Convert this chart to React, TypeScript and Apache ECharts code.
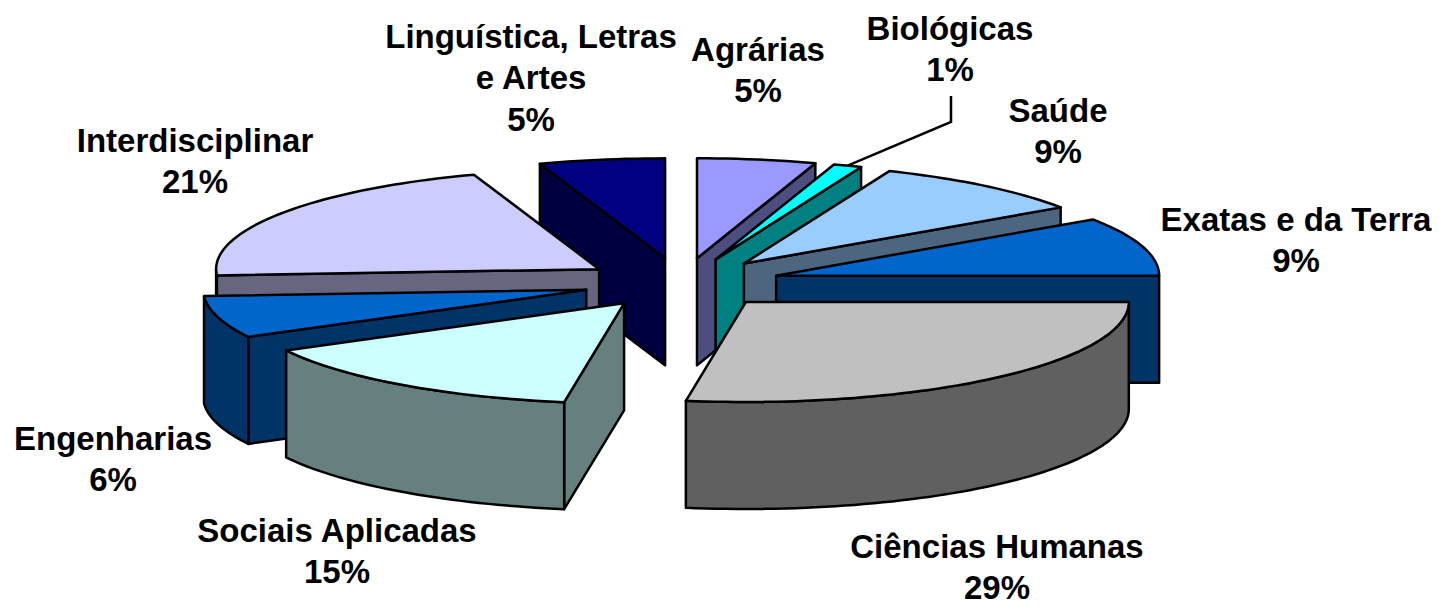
import React, { useEffect, useRef } from "react";
import * as echarts from "echarts";

// Slice names, in the chart's clockwise order from twelve o'clock.
const categories = [
  "Agrárias",
  "Biológicas",
  "Saúde",
  "Exatas e da Terra",
  "Ciências Humanas",
  "Sociais Aplicadas",
  "Engenharias",
  "Interdisciplinar",
  "Linguística, Letras e Artes",
];
// Printed percentages.
const percentLabels = ["5%", "1%", "9%", "9%", "29%", "15%", "6%", "21%", "5%"];
// Sweep of each slice (the source's 3D projection
// bends the sweeps slightly away from the printed percentages).
const shares = [5.0, 1.2, 9.3, 9.5, 27.5, 14.7, 6.8, 20.7, 5.3];
const topColors = ["#9999FF", "#00FFFF", "#99CCFF", "#0066CC", "#C0C0C0", "#CCFFFF", "#0066CC", "#CCCCFF", "#000080"];
const wallColors = ["#4D4D80", "#008080", "#4D6680", "#003366", "#606060", "#668080", "#003366", "#666680", "#000040"];
// Back-to-front painting order.
const paintOrder = [8, 7, 6, 5, 0, 1, 2, 3, 4];

// Layout of the projected pie.
const CX = 681.5, CY = 283, RX = 383, RY = 100, DEPTH = 107, EXPLODE_X = 99, EXPLODE_Y = 25;
const LINE = 2.5;
const FONT = 'bold 33px "Liberation Sans", Arial, sans-serif';
const LINE_GAP = 41.5;

// Label layout, same order as categories: text lines and the centre of the first line.
const labelLines = [
  ["Agrárias"],
  ["Biológicas"],
  ["Saúde"],
  ["Exatas e da Terra"],
  ["Ciências Humanas"],
  ["Sociais Aplicadas"],
  ["Engenharias"],
  ["Interdisciplinar"],
  ["Linguística, Letras", "e Artes"],
];
const labelStarts = [
  [758, 49], [950, 28], [1058, 110], [1296, 219], [997, 546], [337, 530], [113, 438], [195, 140], [531, 36],
];
const LEADER_FROM = [951, 96], LEADER_ELBOW = [951, 122];

const total = shares.reduce((a, b) => a + b, 0);
const starts = shares.map((_, i) => shares.slice(0, i).reduce((a, b) => a + b, 0));
const toAngle = (share: number) => (share / total) * Math.PI * 2;

function apexOf(start: number, share: number) {
  const mid = toAngle(start + share / 2);
  return [CX + EXPLODE_X * Math.sin(mid), CY - EXPLODE_Y * Math.cos(mid)];
}
function rimPoint(apex: number[], angle: number) {
  return [apex[0] + RX * Math.sin(angle), apex[1] - RY * Math.cos(angle)];
}
function arcPoints(apex: number[], a0: number, a1: number) {
  const n = Math.max(2, Math.ceil(((a1 - a0) / (Math.PI * 2)) * 240));
  const pts: number[][] = [];
  for (let i = 0; i <= n; i++) pts.push(rimPoint(apex, a0 + ((a1 - a0) * i) / n));
  return pts;
}
const down = (p: number[]) => [p[0], p[1] + DEPTH];

function renderSlice(_params: any, api: any) {
  const idx = api.value(0) as number;
  const start = api.value(1) as number;
  const share = api.value(2) as number;
  const a0 = toAngle(start);
  const a1 = toAngle(start + share);
  const apex = apexOf(start, share);
  const stroke = "#000000";
  const wallStyle = { fill: wallColors[idx], stroke, lineWidth: LINE, lineJoin: "round" };
  const children: any[] = [];
  const radialWall = (angle: number) => {
    const rim = rimPoint(apex, angle);
    children.push({
      type: "polygon",
      shape: { points: [apex, rim, down(rim), down(apex)] },
      style: wallStyle,
    });
  };
  if (Math.sin(a1) > 0.001) radialWall(a1);
  if (Math.sin(a0) < -0.001) radialWall(a0);
  const w0 = Math.max(a0, Math.PI / 2);
  const w1 = Math.min(a1, (Math.PI * 3) / 2);
  if (w1 > w0) {
    const top = arcPoints(apex, w0, w1);
    children.push({
      type: "polygon",
      shape: { points: [...top, ...top.slice().reverse().map(down)] },
      style: wallStyle,
    });
  }
  children.push({
    type: "polygon",
    shape: { points: [apex, ...arcPoints(apex, a0, a1)] },
    style: { fill: topColors[idx], stroke, lineWidth: LINE, lineJoin: "round" },
  });
  return { type: "group", children };
}

export default function App() {
  const ref = useRef<HTMLDivElement>(null);
  useEffect(() => {
    document.body.style.margin = "0";
    const chart = echarts.init(ref.current!, undefined, { renderer: "svg" });
    const bioIdx = 1;
    const bioApex = apexOf(starts[bioIdx], shares[bioIdx]);
    const leaderEnd = rimPoint(bioApex, toAngle(starts[bioIdx] + shares[bioIdx] / 2));
    const textElements: any[] = [];
    categories.forEach((_, i) => {
      [...labelLines[i], percentLabels[i]].forEach((line, k) => {
        textElements.push({
          type: "text",
          silent: true,
          z: 20,
          x: labelStarts[i][0],
          y: labelStarts[i][1] + k * LINE_GAP,
          style: {
            text: line,
            font: FONT,
            fill: "#000000",
            align: "center",
            verticalAlign: "middle",
            lineHeight: 30,
          },
        });
      });
    });
    chart.setOption({
      animation: false,
      backgroundColor: "#FFFFFF",
      series: [
        {
          type: "custom",
          coordinateSystem: "none",
          silent: true,
          clip: false,
          renderItem: renderSlice,
          data: paintOrder.map((i) => ({
            name: categories[i],
            value: [i, starts[i], shares[i]],
          })),
        },
      ],
      graphic: [
        {
          type: "polyline",
          silent: true,
          z: 10,
          shape: { points: [LEADER_FROM, LEADER_ELBOW, leaderEnd] },
          style: { stroke: "#000000", lineWidth: LINE, fill: "none" },
        },
        ...textElements,
      ],
    });
    return () => chart.dispose();
  }, []);
  return <div ref={ref} style={{ width: 1439, height: 607 }} />;
}
